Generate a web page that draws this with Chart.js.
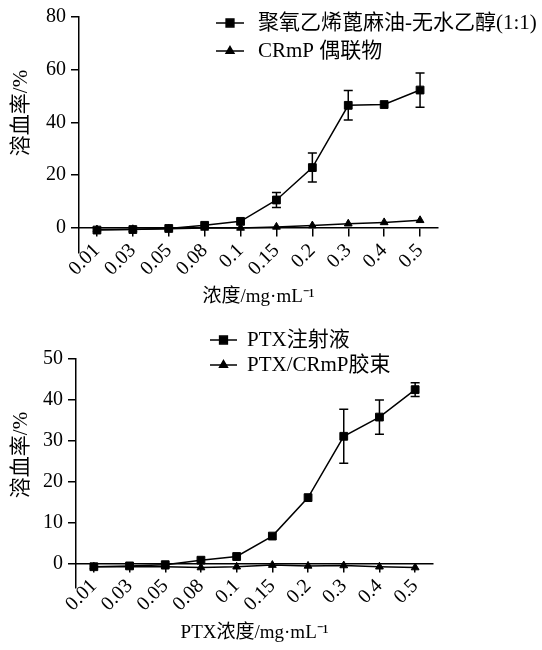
<!DOCTYPE html>
<html>
<head>
<meta charset="utf-8">
<script src="https://cdn.jsdelivr.net/npm/chart.js@4.4.1/dist/chart.umd.min.js"></script>
<style>
  body { margin: 0; background: #fff; }
  .wrap { position: relative; width: 542px; height: 650px; }
  canvas { position: absolute; left: 0; }
  #topChart { top: 0; }
  #bottomChart { top: 320px; }
</style>
</head>
<body>
<div class="wrap">
  <canvas id="topChart" width="542" height="320"></canvas>
  <canvas id="bottomChart" width="542" height="330"></canvas>
</div>
<script>
// --- DATA ---
const doses = ['0.01', '0.03', '0.05', '0.08', '0.1', '0.15', '0.2', '0.3', '0.4', '0.5'];

// upper panel
const castorLabel = '聚氧乙烯蓖麻油-无水乙醇(1:1)';
const castorVals = [-0.8, -0.6, -0.2, 1.0, 2.5, 10.6, 22.9, 46.5, 46.8, 52.3];
const castorErr  = [0, 0, 0, 0, 0, 2.8, 5.5, 5.6, 0, 6.5];
const conjLabel = 'CRmP 偶联物';
const conjVals = [-0.6, -0.5, -0.3, 0, 0, 0.4, 0.9, 1.6, 2.1, 2.9];
const topTicks = [0, 20, 40, 60, 80];

// lower panel
const injLabel = 'PTX注射液';
const injVals = [-0.8, -0.6, -0.3, 0.8, 1.7, 6.7, 16.1, 31.1, 35.8, 42.5];
const injErr  = [0, 0, 0, 0, 0, 0, 0, 6.6, 4.2, 1.7];
const micLabel = 'PTX/CRmP胶束';
const micVals = [-0.8, -0.8, -0.8, -1.0, -0.8, -0.4, -0.6, -0.5, -0.8, -1.0];
const bottomTicks = [0, 10, 20, 30, 40, 50];

const yTitle = '溶血率/%';
const topXTitle = '浓度/mg·mL⁻¹';
const bottomXTitle = 'PTX浓度/mg·mL⁻¹';

const SERIF = '"Liberation Serif", "Noto Sans CJK SC", serif';
Chart.defaults.color = '#000';
Chart.defaults.font.family = SERIF;

// --- PLUGINS ---
// vertical error bars with caps
const errorBars = {
  id: 'errorBars',
  afterDatasetsDraw(chart) {
    const ctx = chart.ctx;
    const yScale = chart.scales.y;
    chart.data.datasets.forEach((ds, i) => {
      if (!ds.errors) return;
      const meta = chart.getDatasetMeta(i);
      ctx.save();
      ctx.strokeStyle = '#000';
      ctx.lineWidth = 1.5;
      meta.data.forEach((pt, j) => {
        const e = ds.errors[j];
        if (!e) return;
        const top = yScale.getPixelForValue(ds.data[j] + e);
        const bot = yScale.getPixelForValue(ds.data[j] - e);
        ctx.beginPath();
        ctx.moveTo(pt.x, top); ctx.lineTo(pt.x, bot);
        ctx.moveTo(pt.x - 4.5, top); ctx.lineTo(pt.x + 4.5, top);
        ctx.moveTo(pt.x - 4.5, bot); ctx.lineTo(pt.x + 4.5, bot);
        ctx.stroke();
      });
      ctx.restore();
    });
  }
};

// legend rows + rotated y title
const panelText = {
  id: 'panelText',
  afterDraw(chart, args, opts) {
    const ctx = chart.ctx;
    ctx.save();
    ctx.fillStyle = '#000';
    ctx.strokeStyle = '#000';
    ctx.font = opts.font;
    ctx.textBaseline = 'middle';
    chart.data.datasets.forEach((ds, i) => {
      const y = opts.legendY + i * opts.rowGap;
      ctx.lineWidth = 1.5;
      ctx.beginPath();
      ctx.moveTo(opts.legendX, y);
      ctx.lineTo(opts.legendX + opts.lineLen, y);
      ctx.stroke();
      Chart.helpers.drawPoint(ctx, { pointStyle: ds.pointStyle, radius: ds.pointRadius, rotation: 0, borderWidth: 1 },
        opts.legendX + opts.lineLen / 2, y);
      ctx.fillText(ds.label, opts.legendX + opts.lineLen + opts.gap, y);
    });
    ctx.translate(opts.yTitleX, opts.yTitleY);
    ctx.rotate(-Math.PI / 2);
    ctx.textAlign = 'center';
    ctx.fillText(opts.yTitle, 0, 0);
    ctx.restore();
  }
};

function series(label, vals, style, radius, errs) {
  return {
    label: label,
    data: vals,
    errors: errs,
    borderColor: '#000',
    backgroundColor: '#000',
    borderWidth: 1.5,
    pointStyle: style,
    pointRadius: radius,
    pointBorderWidth: 1,
    tension: 0
  };
}

function makeChart(id, datasets, yMin, yMax, ticks, xTitle, area, text) {
  const chart = new Chart(document.getElementById(id), {
    type: 'line',
    data: { labels: doses, datasets: datasets },
    options: {
      responsive: false,
      animation: false,
      layout: { padding: { left: 0, right: 0, top: 0, bottom: 0 } },
      plugins: { legend: { display: false }, tooltip: { enabled: false }, panelText: text },
      scales: {
        x: {
          type: 'category',
          position: { y: 0 },
          offset: true,
          border: { display: true, color: '#000', width: 1.5 },
          grid: { drawOnChartArea: false, drawTicks: true, tickLength: 8, color: '#000', lineWidth: 1.5 },
          ticks: { minRotation: 45, maxRotation: 45, autoSkip: false, padding: 3, font: { size: 20 } },
          title: { display: true, text: xTitle, font: { size: 19 }, padding: { top: 2, bottom: 0 } }
        },
        y: {
          position: 'left',
          min: yMin,
          max: yMax,
          afterBuildTicks: s => { s.ticks = ticks.map(v => ({ value: v })); },
          border: { display: true, color: '#000', width: 1.5 },
          grid: { drawOnChartArea: false, drawTicks: true, tickLength: 8, color: '#000', lineWidth: 1.5 },
          ticks: { padding: 5, font: { size: 20 } }
        }
      }
    },
    plugins: [errorBars, panelText]
  });
  // nudge padding so the plot box sits where the figure has it
  for (let k = 0; k < 2; k++) {
    const a = chart.chartArea, p = chart.options.layout.padding;
    p.left += area.left - a.left;
    p.top += area.top - a.top;
    p.right += a.right - area.right;
    p.bottom += a.bottom - area.bottom;
    chart.update();
  }
  return chart;
}

const textFont = '21px ' + SERIF;

makeChart('topChart', [
  series(castorLabel, castorVals, 'rect', 5.5, castorErr),
  series(conjLabel, conjVals, 'triangle', 4.5)
], -9.5, 80, topTicks, topXTitle,
  { left: 79, top: 15, right: 438, bottom: 253 },
  { font: textFont, legendX: 216, legendY: 23, rowGap: 28, lineLen: 28, gap: 14,
    yTitle: yTitle, yTitleX: 21, yTitleY: 113 });

makeChart('bottomChart', [
  series(injLabel, injVals, 'rect', 5.5, injErr),
  series(micLabel, micVals, 'triangle', 4.5)
], -6, 50, bottomTicks, bottomXTitle,
  { left: 76, top: 39, right: 433, bottom: 268 },
  { font: textFont, legendX: 210, legendY: 20, rowGap: 25, lineLen: 27, gap: 10,
    yTitle: yTitle, yTitleX: 21, yTitleY: 135 });
</script>
</body>
</html>
